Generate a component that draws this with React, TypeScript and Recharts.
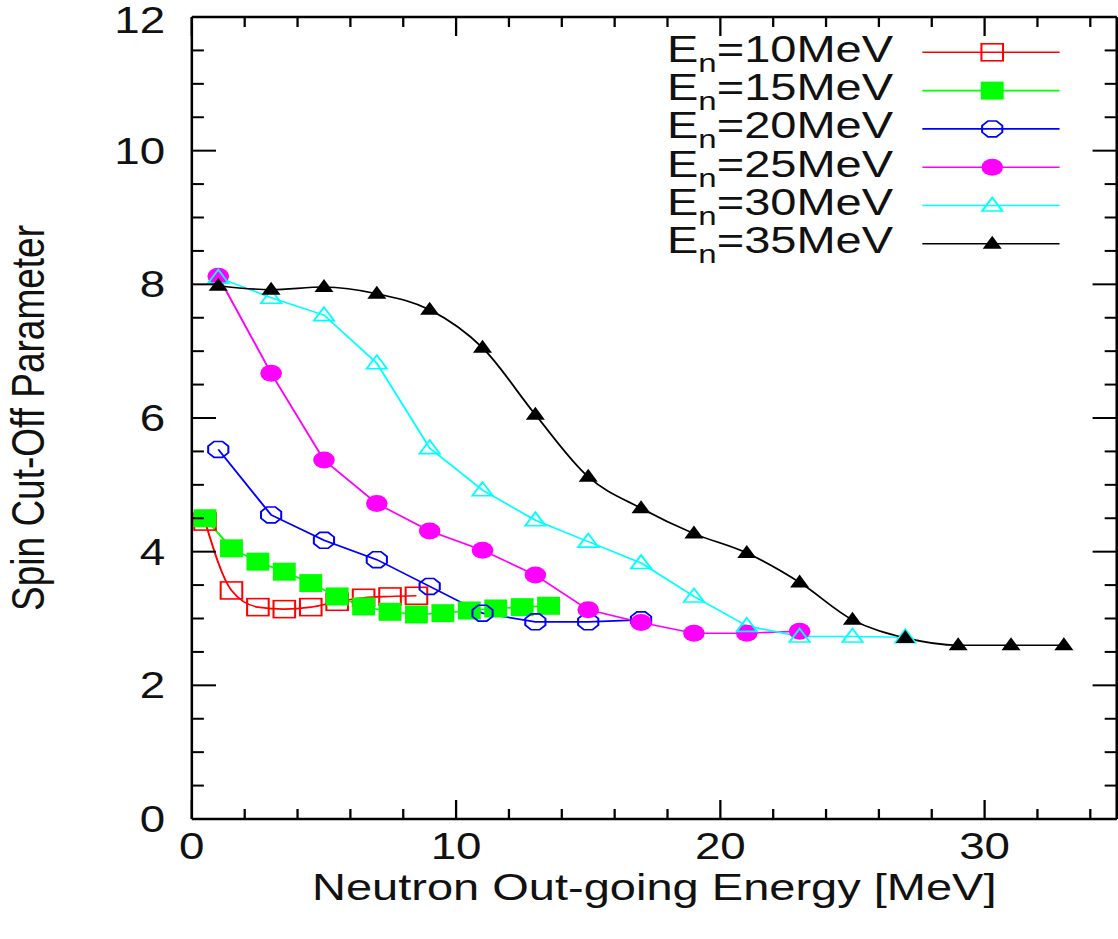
import { LineChart, Line, XAxis, YAxis, Legend, Label } from 'recharts';

// the source image is stretched sideways, so the chart is drawn narrow and scaled up in x
const STRETCH = 1118 / 880;
const FONT = '"Liberation Sans", Arial, Helvetica, sans-serif';

const x10 = [0.5, 1.5, 2.5, 3.5, 4.5, 5.5, 6.5, 7.5, 8.5];
const y10 = [4.45, 3.42, 3.17, 3.14, 3.17, 3.25, 3.31, 3.33, 3.34];

const x15 = [0.5, 1.5, 2.5, 3.5, 4.5, 5.5, 6.5, 7.5, 8.5, 9.5, 10.5, 11.5, 12.5, 13.5];
const y15 = [4.5, 4.05, 3.85, 3.7, 3.53, 3.33, 3.18, 3.1, 3.06, 3.08, 3.12, 3.15, 3.17, 3.19];

const x20 = [1, 3, 5, 7, 9, 11, 13, 15, 17];
const y20 = [5.53, 4.55, 4.17, 3.88, 3.48, 3.08, 2.95, 2.95, 2.98];

const x25 = [1, 3, 5, 7, 9, 11, 13, 15, 17, 19, 21, 23];
const y25 = [8.12, 6.67, 5.37, 4.72, 4.31, 4.02, 3.65, 3.13, 2.94, 2.78, 2.78, 2.81];

const x30 = [1, 3, 5, 7, 9, 11, 13, 15, 17, 19, 21, 23, 25, 27];
const y30 = [8.1, 7.8, 7.54, 6.82, 5.55, 4.92, 4.47, 4.15, 3.83, 3.33, 2.89, 2.73, 2.73, 2.72];

const x35 = [1, 3, 5, 7, 9, 11, 13, 15, 17, 19, 21, 23, 25, 27, 29, 31, 33];
const y35 = [7.98, 7.92, 7.96, 7.86, 7.62, 7.05, 6.05, 5.12, 4.65, 4.27, 3.98, 3.54, 2.98, 2.71, 2.6, 2.6, 2.6];

const xTicks = [0, 2, 4, 6, 8, 10, 12, 14, 16, 18, 20, 22, 24, 26, 28, 30, 32, 34];
const yTicks = [0, 0.5, 1, 1.5, 2, 2.5, 3, 3.5, 4, 4.5, 5, 5.5, 6, 6.5, 7, 7.5, 8, 8.5, 9, 9.5, 10, 10.5, 11, 11.5, 12];

type Shape = 'sqOpen' | 'sqFill' | 'octOpen' | 'circFill' | 'triOpen' | 'triFill';

const series: { id: string; energy: string; xs: number[]; ys: number[]; color: string; shape: Shape; curve: 'monotone' | 'linear' }[] = [
  { id: 'e10', energy: '10', xs: x10, ys: y10, color: '#ff0000', shape: 'sqOpen', curve: 'monotone' },
  { id: 'e15', energy: '15', xs: x15, ys: y15, color: '#00ff00', shape: 'sqFill', curve: 'linear' },
  { id: 'e20', energy: '20', xs: x20, ys: y20, color: '#0000ff', shape: 'octOpen', curve: 'linear' },
  { id: 'e25', energy: '25', xs: x25, ys: y25, color: '#ff00ff', shape: 'circFill', curve: 'linear' },
  { id: 'e30', energy: '30', xs: x30, ys: y30, color: '#00ffff', shape: 'triOpen', curve: 'linear' },
  { id: 'e35', energy: '35', xs: x35, ys: y35, color: '#000000', shape: 'triFill', curve: 'monotone' },
];

const Marker = ({ cx, cy, shape, color }: { cx: number; cy: number; shape: Shape; color: string }) => {
  switch (shape) {
    case 'sqOpen':
      return <rect x={cx - 8.5} y={cy - 8.5} width={17} height={17} fill="none" stroke={color} strokeWidth={1.6} />;
    case 'sqFill':
      return <rect x={cx - 9} y={cy - 9} width={18} height={18} fill={color} />;
    case 'octOpen': {
      const pts = [0, 1, 2, 3, 4, 5, 6, 7]
        .map((k) => {
          const a = ((22.5 + 45 * k) * Math.PI) / 180;
          return `${cx + 8.6 * Math.cos(a)},${cy + 8.6 * Math.sin(a)}`;
        })
        .join(' ');
      return <polygon points={pts} fill="none" stroke={color} strokeWidth={1.6} />;
    }
    case 'circFill':
      return <circle cx={cx} cy={cy} r={8.5} fill={color} />;
    case 'triOpen':
      return <polygon points={`${cx},${cy - 8} ${cx + 8},${cy + 5.5} ${cx - 8},${cy + 5.5}`} fill="none" stroke={color} strokeWidth={1.6} />;
    default:
      return <polygon points={`${cx},${cy - 8} ${cx + 7.5},${cy + 5} ${cx - 7.5},${cy + 5}`} fill={color} />;
  }
};

const BottomTick = (props: any) => {
  const { x, y, payload } = props;
  const major = payload.value % 10 === 0;
  return (
    <g>
      <line x1={x} x2={x} y1={y} y2={y - (major ? 19 : 10)} stroke="#000" strokeWidth={1.8} />
      {major && (
        <text x={x} y={y + 40} textAnchor="middle" fontSize={36} fontFamily={FONT} fill="#111">
          {payload.value}
        </text>
      )}
    </g>
  );
};

const TopTick = (props: any) => {
  const { x, y, payload } = props;
  const major = payload.value % 10 === 0;
  return <line x1={x} x2={x} y1={y} y2={y + (major ? 19 : 10)} stroke="#000" strokeWidth={1.8} />;
};

const LeftTick = (props: any) => {
  const { x, y, payload } = props;
  const major = payload.value % 2 === 0;
  // keep the top label inside the canvas
  const ty = Math.max(y + 13, 33.5);
  return (
    <g>
      <line x1={x} x2={x + (major ? 19 : 9.5)} y1={y} y2={y} stroke="#000" strokeWidth={2} />
      {major && (
        <text x={x - 21} y={ty} textAnchor="end" fontSize={36} fontFamily={FONT} fill="#111">
          {payload.value}
        </text>
      )}
    </g>
  );
};

const RightTick = (props: any) => {
  const { x, y, payload } = props;
  const major = payload.value % 2 === 0;
  return <line x1={x} x2={x - (major ? 19 : 9.5)} y1={y} y2={y} stroke="#000" strokeWidth={2} />;
};

const XTitle = (props: any) => {
  const { x, y, width } = props.viewBox;
  return (
    <text x={x + width / 2} y={y + 81.5} textAnchor="middle" fontSize={37} fontFamily={FONT} fill="#111">
      Neutron Out-going Energy [MeV]
    </text>
  );
};

const YTitle = (props: any) => {
  const { y, height } = props.viewBox;
  const cy = y + height / 2;
  return (
    <text x={35} y={cy} transform={`rotate(-90 35 ${cy})`} textAnchor="middle" fontSize={37} fontFamily={FONT} fill="#111">
      Spin Cut-Off Parameter
    </text>
  );
};

const renderLegend = () => (
  <svg width={880} height={270} style={{ display: 'block' }}>
    {series.map((s, i) => {
      const ry = 52.3 + 38.3 * i;
      return (
        <g key={s.id}>
          <text x={703} y={ry + 9.4} textAnchor="end" fontSize={37} fontFamily={FONT} fill="#111">
            E
            <tspan fontSize={26} dy={10}>
              n
            </tspan>
            <tspan dy={-10}>={s.energy}MeV</tspan>
          </text>
          <line x1={726} x2={834} y1={ry} y2={ry} stroke={s.color} strokeWidth={1.6} />
          <Marker cx={781} cy={ry} shape={s.shape} color={s.color} />
        </g>
      );
    })}
  </svg>
);

const App = () => {
  return (
    <div
      style={{ position: 'absolute', left: 0, top: 0, width: 880, height: 939, transform: `scaleX(${STRETCH})`, transformOrigin: '0 0', background: '#fff' }}
    >
      <LineChart width={880} height={939} margin={{ top: 16, right: 0, left: 0, bottom: 0 }}>
        <XAxis
          xAxisId="b"
          dataKey="x"
          type="number"
          domain={[0, 35]}
          allowDataOverflow
          ticks={xTicks}
          interval={0}
          tickSize={0}
          tickMargin={0}
          tickLine={false}
          tick={<BottomTick />}
          axisLine={{ stroke: '#000', strokeWidth: 2.4 }}
          height={120}
        >
          <Label content={<XTitle />} />
        </XAxis>
        <XAxis
          xAxisId="t"
          orientation="top"
          dataKey="x"
          type="number"
          domain={[0, 35]}
          allowDataOverflow
          ticks={xTicks}
          interval={0}
          tickSize={0}
          tickMargin={0}
          tickLine={false}
          tick={<TopTick />}
          axisLine={{ stroke: '#000', strokeWidth: 2.4 }}
          height={1}
        />
        <YAxis
          yAxisId="l"
          type="number"
          domain={[0, 12]}
          allowDataOverflow
          ticks={yTicks}
          interval={0}
          tickSize={0}
          tickMargin={0}
          tickLine={false}
          tick={<LeftTick />}
          axisLine={{ stroke: '#000', strokeWidth: 2 }}
          width={151}
        >
          <Label content={<YTitle />} />
        </YAxis>
        <YAxis
          yAxisId="r"
          orientation="right"
          type="number"
          domain={[0, 12]}
          allowDataOverflow
          ticks={yTicks}
          interval={0}
          tickSize={0}
          tickMargin={0}
          tickLine={false}
          tick={<RightTick />}
          axisLine={{ stroke: '#000', strokeWidth: 2 }}
          width={1}
        />
        <Legend
          layout="vertical"
          align="center"
          verticalAlign="middle"
          content={renderLegend}
          wrapperStyle={{ position: 'absolute', left: 0, top: 0, width: 880, height: 270, margin: 0, padding: 0 }}
        />
        {series.map((s) => (
          <Line
            key={s.id}
            xAxisId="b"
            yAxisId="l"
            data={s.xs.map((x, i) => ({ x, y: s.ys[i] }))}
            dataKey="y"
            name={`En=${s.energy}MeV`}
            type={s.curve}
            stroke={s.color}
            strokeWidth={1.6}
            dot={(p: any) => <Marker key={`${s.id}-${p.index}`} cx={p.cx} cy={p.cy} shape={s.shape} color={s.color} />}
            activeDot={false}
            isAnimationActive={false}
          />
        ))}
      </LineChart>
    </div>
  );
};

export default App;
